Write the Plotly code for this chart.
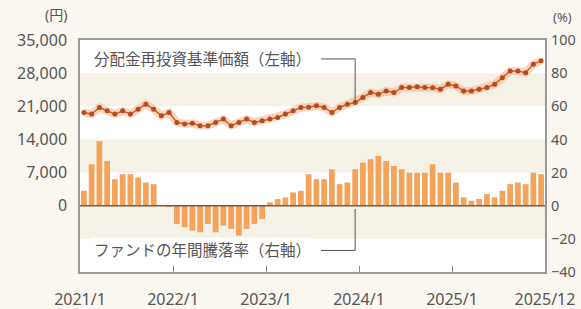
import plotly.graph_objects as go

months = [f"{y}/{m}" for y in range(2021, 2026) for m in range(1, 13)]

nav = [19700, 19350, 20750, 20050, 19350, 20050, 19350, 20400, 21450, 20400, 19000, 19700,
       17600, 17250, 17400, 16900, 16900, 17600, 18300, 16900, 17600, 18300, 17600, 17950,
       18300, 18650, 19350, 20050, 20750, 20800, 21100, 20750, 19700, 20750, 21450, 21800,
       22850, 23900, 23550, 24250, 23900, 24950, 24950, 25100, 24950, 24900, 24600, 25650,
       25300, 24250, 24250, 24600, 24950, 25650, 27050, 28450, 28450, 28100, 29900, 30600]

ret = [9, 25, 39, 27, 16, 19, 19, 17, 14, 13, 0.4, -0.5,
       -11, -13, -15, -16, -11, -16, -12, -14, -18, -14, -11, -8,
       2, 4, 5, 8, 9, 19, 16, 16, 22, 13, 14, 22,
       26, 28, 30, 27, 24, 22, 20, 20, 20, 25, 20, 20,
       14, 5, 3, 4, 7, 5, 9, 13, 14, 13, 20, 19]

xtick_labels = ["2021/1", "2022/1", "2023/1", "2024/1", "2025/1", "2025/12"]
xtick_vals = [-0.5, 11.5, 23.5, 35.5, 47.5, 59.5]
left_ticks = [0, 7000, 14000, 21000, 28000, 35000]
right_ticks = [-40, -20, 0, 20, 40, 60, 80, 100]
stripes = [(21000, 28000), (7000, 14000), (-7000, 0)]

label_nav = "分配金再投資基準価額（左軸）"
label_ret = "ファンドの年間騰落率（右軸）"

x = list(range(len(months)))
FONT = "Noto Sans, Noto Sans CJK JP, sans-serif"
GRAY = "#555555"

fig = go.Figure()
fig.add_trace(go.Bar(x=x, y=ret, yaxis="y2", width=0.74,
                     marker=dict(color="#F3A35A", line=dict(width=0)),
                     customdata=months, showlegend=False))
fig.add_trace(go.Scatter(x=x, y=nav, mode="lines", yaxis="y",
                         line=dict(color="rgba(245,165,120,0.45)", width=8),
                         hoverinfo="skip", showlegend=False))
fig.add_trace(go.Scatter(x=x, y=nav, mode="lines+markers", yaxis="y",
                         line=dict(color="#D0602A", width=1.5),
                         marker=dict(size=5, color="#B84A1C"),
                         customdata=months, showlegend=False))

shapes = []
for a, b in stripes:
    shapes.append(dict(type="rect", xref="paper", yref="y", x0=0, x1=1, y0=a, y1=b,
                       fillcolor="#F5F1E6", line=dict(width=0), layer="below"))
shapes.append(dict(type="line", xref="paper", yref="y", x0=0, x1=1, y0=0, y1=0,
                   line=dict(color="#7A5A45", width=1.5), layer="above"))
lead_x = 35
shapes.append(dict(type="path", xref="x", yref="y",
                   path=f"M 30.6,31000 L {lead_x},31000 L {lead_x},{nav[lead_x]}",
                   line=dict(color="#555555", width=1)))
shapes.append(dict(type="path", xref="x", yref="y2",
                   path=f"M 30.6,-27 L {lead_x},-27 L {lead_x},-2",
                   line=dict(color="#555555", width=1)))

annotations = [
    dict(text=label_nav, xref="paper", yref="y", x=0.026, y=31000, xanchor="left",
         yanchor="middle", showarrow=False, bgcolor="white",
         font=dict(family=FONT, size=15.5, color=GRAY)),
    dict(text=label_ret, xref="paper", yref="y2", x=0.026, y=-27, xanchor="left",
         yanchor="middle", showarrow=False, bgcolor="white",
         font=dict(family=FONT, size=15.5, color=GRAY)),
    dict(text="(円)", xref="paper", yref="paper", x=-0.024, y=1.11, xanchor="right",
         yanchor="middle", showarrow=False, font=dict(family=FONT, size=14, color=GRAY)),
    dict(text="(%)", xref="paper", yref="paper", x=1.012, y=1.10, xanchor="left",
         yanchor="middle", showarrow=False, font=dict(family=FONT, size=13, color=GRAY)),
]

fig.update_layout(
    width=581, height=309,
    margin=dict(l=80, r=36, t=40, b=37, autoexpand=False),
    paper_bgcolor="#FAF7F0", plot_bgcolor="white",
    font=dict(family=FONT, size=16, color=GRAY),
    xaxis=dict(range=[-0.5, 59.5], tickvals=xtick_vals, ticktext=xtick_labels,
               ticks="inside", ticklen=6, tickcolor="#888", showgrid=False,
               showline=True, linecolor="#9A9A9A", linewidth=1.5, mirror=True,
               zeroline=False, ticklabelstandoff=12, automargin=False,
               tickfont=dict(size=16, color=GRAY)),
    yaxis=dict(range=[-14000, 35000], tickvals=left_ticks,
               ticktext=[f"{v:,}" for v in left_ticks],
               showgrid=False, zeroline=False, showline=True, linecolor="#9A9A9A",
               linewidth=1.5, mirror=True, ticks="", ticklabelstandoff=8,
               automargin=False, tickfont=dict(size=16, color=GRAY)),
    yaxis2=dict(range=[-40, 100], tickvals=right_ticks,
                ticktext=[("−" + str(-v)) if v < 0 else str(v) for v in right_ticks],
                overlaying="y", side="right", showgrid=False, zeroline=False,
                ticks="", ticklabelstandoff=5, automargin=False,
                tickfont=dict(size=14.5, color=GRAY)),
    shapes=shapes, annotations=annotations,
)

fig.write_html("out.html", post_script="document.body.style.margin='0';",
               config={"displayModeBar": False})
